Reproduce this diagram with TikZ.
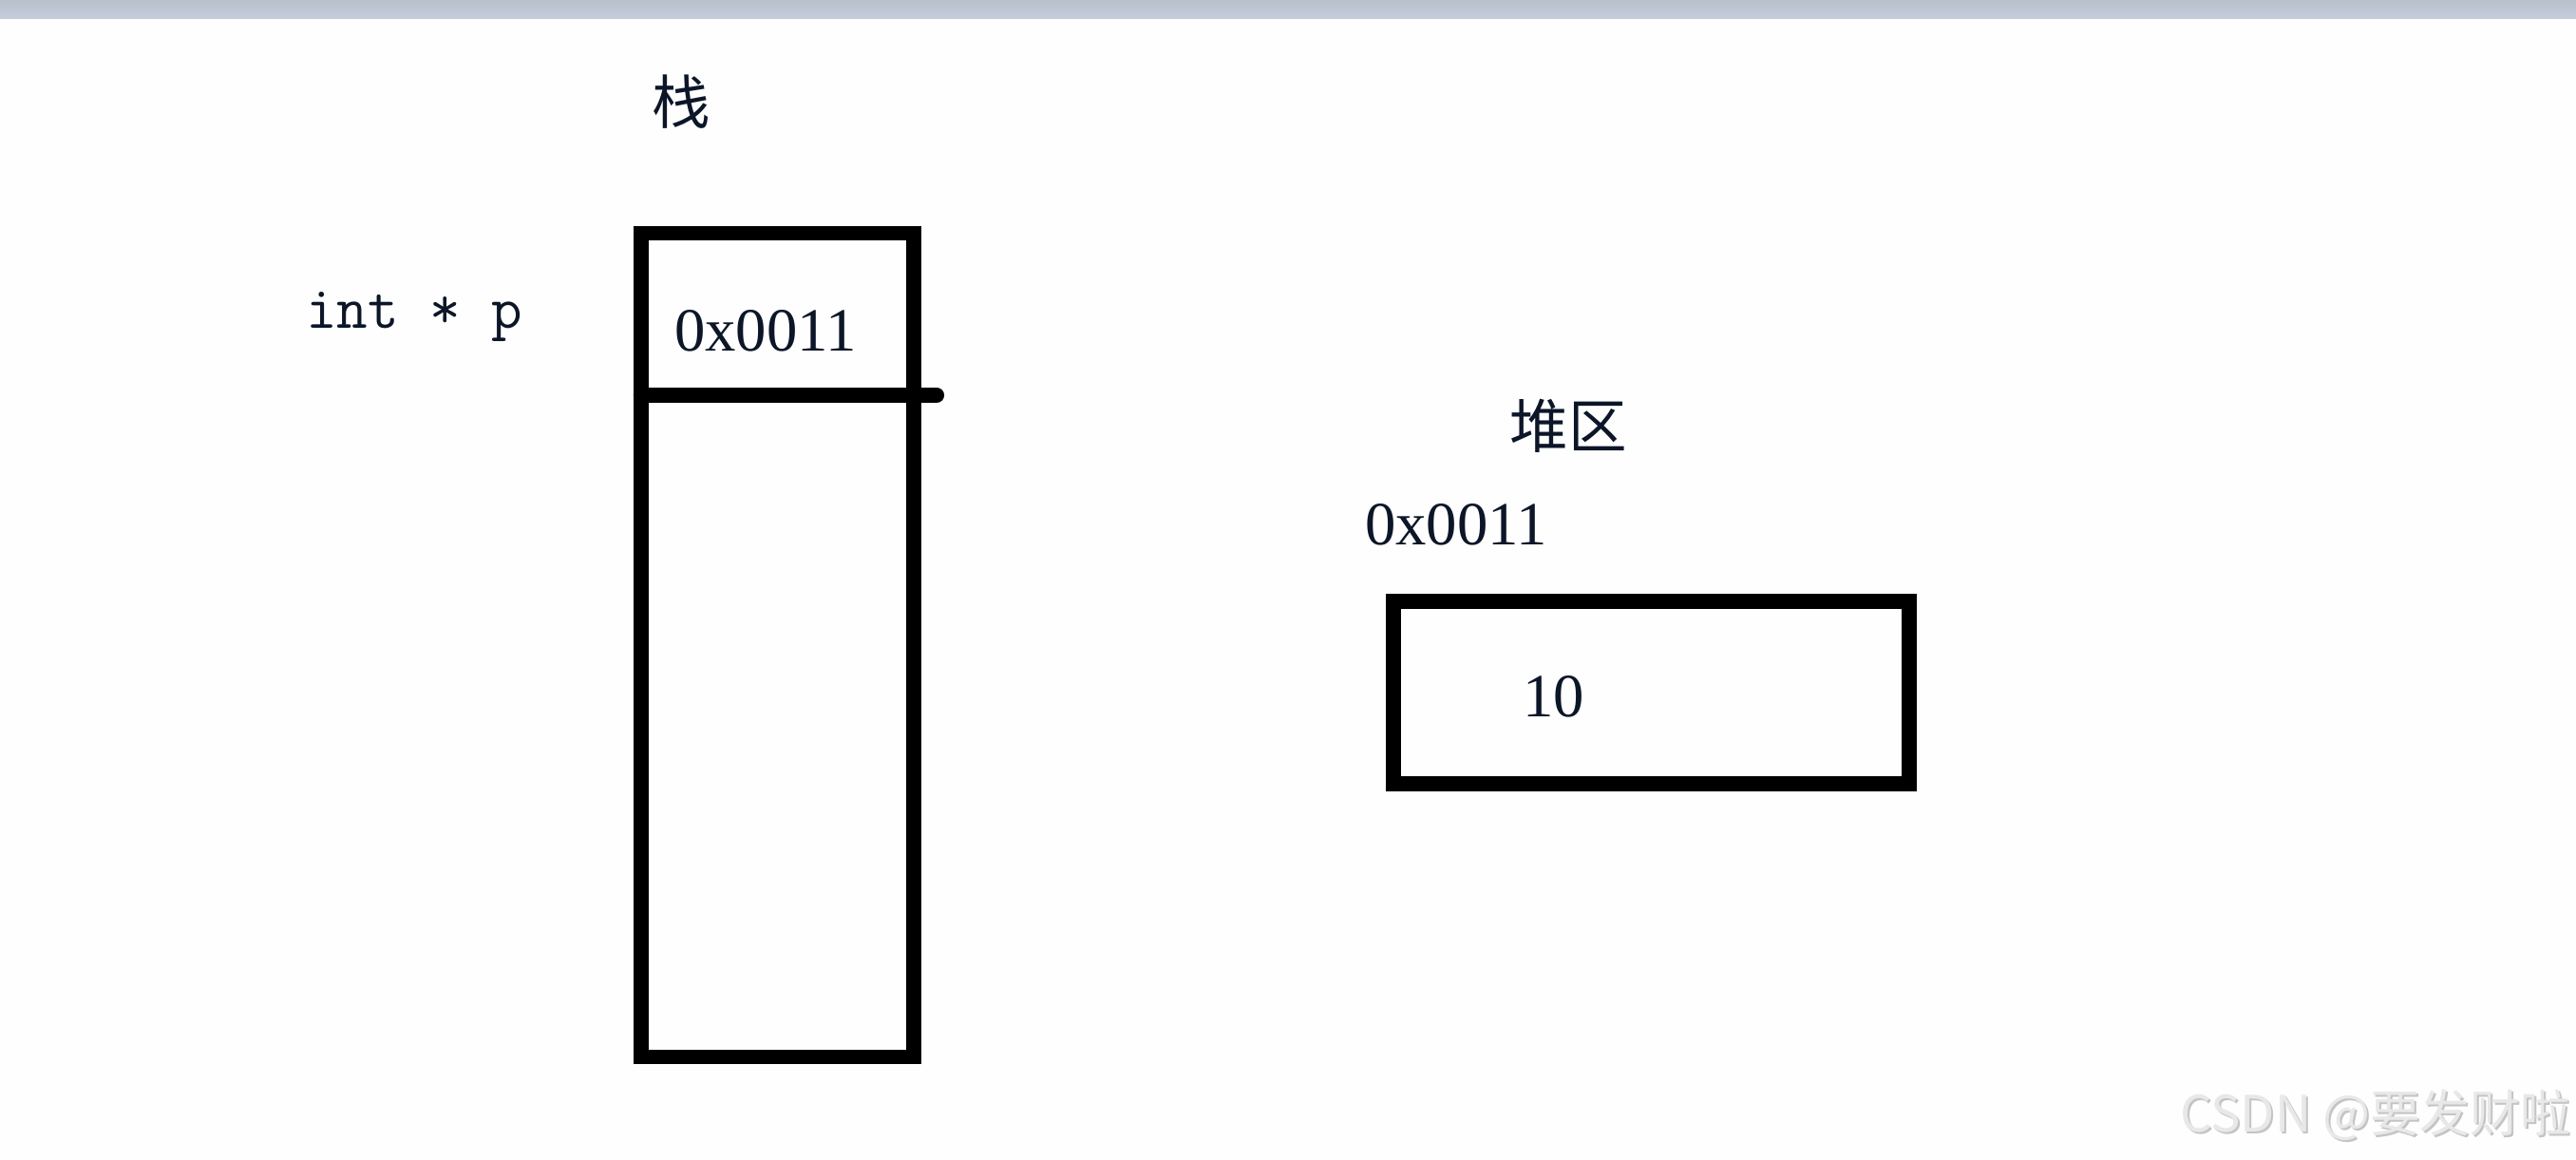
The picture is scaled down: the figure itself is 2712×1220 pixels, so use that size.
\documentclass[tikz,border=0pt]{standalone}
\usepackage{fontspec}
\setmainfont{Liberation Serif}
\newfontfamily\cjkfont{Noto Sans CJK SC}
\definecolor{bgcol}{RGB}{253,254,253}
\definecolor{barcol}{RGB}{196,205,220}
\definecolor{bartop}{RGB}{184,192,204}
\definecolor{inkcol}{RGB}{12,22,40}
\definecolor{wmcol}{RGB}{232,232,232}
\definecolor{wmshade}{RGB}{196,196,196}
\begin{document}
\begin{tikzpicture}[x=0.01cm,y=-0.01cm,
  membox/.style={draw=black,line width=4.4pt,inner sep=0pt,outer sep=0pt},
  serif18/.style={inner sep=0pt,outer sep=0pt,text=inkcol,font=\fontsize{18.4}{20}\selectfont},
  mono18/.style={inner sep=0pt,outer sep=0pt,text=inkcol,font=\fontsize{18}{20}\ttfamily},
  cjk17/.style={inner sep=0pt,outer sep=0pt,text=inkcol,font=\fontsize{17.5}{20}\cjkfont},
  wm/.style={inner sep=0pt,outer sep=0pt,font=\fontsize{15}{18}\cjkfont}]
% page and top bar
\fill[bgcol] (0,0) rectangle (2712,1220);
\shade[top color=bartop,bottom color=barcol] (0,0) rectangle (2712,19);
\useasboundingbox (0,0) rectangle (2712,1220);
% stack
\node[cjk17] (stacktitle) at (717,107) {栈};
\node[mono18,anchor=base west] (decl) at (322,345) {int * p};
\node[membox,minimum width=2.87cm,minimum height=8.66cm] (stack) at (818.5,679) {};
\coordinate (divR) at (986,416);
\draw[line width=4.6pt,line cap=round] (stack.west |- divR) -- (divR);
\node[serif18,anchor=base west] (pval) at (710,369) {0x0011};
% heap
\node[cjk17] (heaptitle) at (1651,448) {堆区};
\node[serif18,anchor=base west] (haddr) at (1437,573) {0x0011};
\node[membox,minimum width=5.43cm,minimum height=1.92cm] (heap) at (1738.5,729) {};
\node[serif18,anchor=base west] (hval) at (1603,754) {10};
% watermark
\node[wm,text=wmshade,anchor=east] (wmshadow) at (2708,1176) {CSDN @要发财啦};
\node[wm,text=wmcol,anchor=east] (wmark) at (2706,1174) {CSDN @要发财啦};
\end{tikzpicture}
\end{document}
